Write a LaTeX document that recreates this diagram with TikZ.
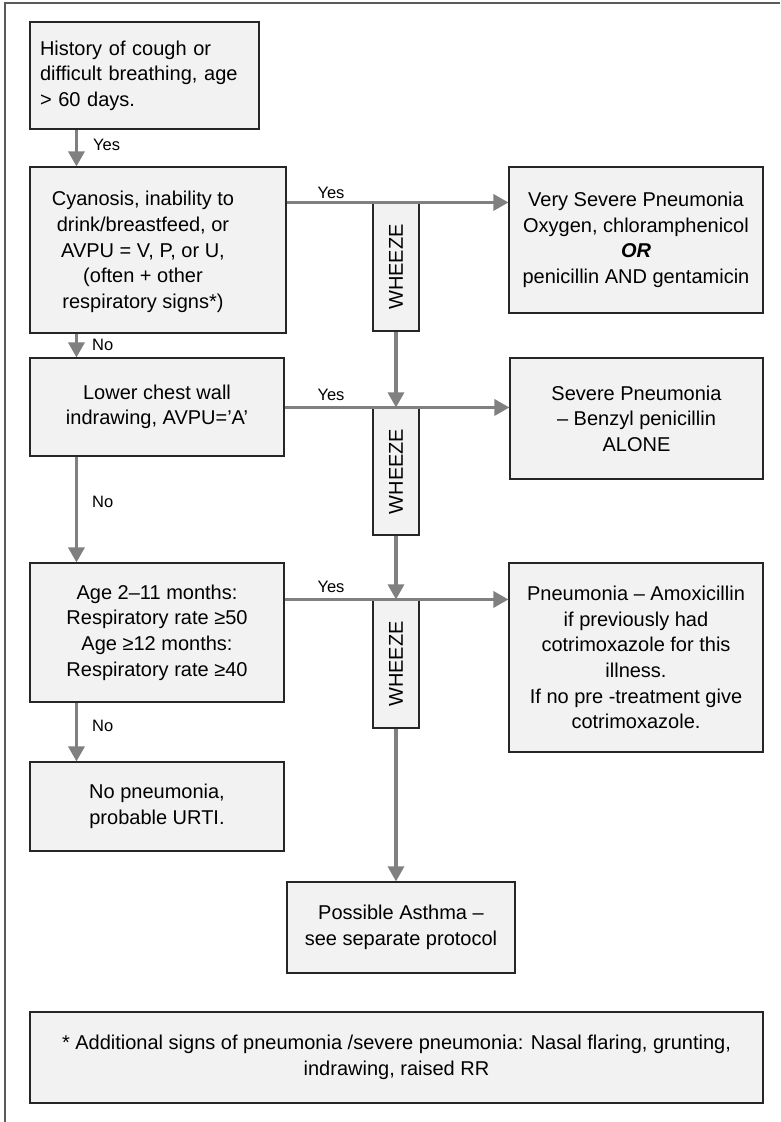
\documentclass[tikz,border=0pt]{standalone}
\usepackage{fontspec}
\setmainfont{Liberation Sans}
\usetikzlibrary{arrows.meta}
\definecolor{boxfill}{HTML}{F2F2F2}
\definecolor{flow}{HTML}{808080}
\definecolor{frame}{HTML}{5A5A5A}
\begin{document}
\begin{tikzpicture}[x=1pt,y=-1pt,
  stepbox/.style={draw=black!85, line width=1.1pt, fill=boxfill, inner sep=0pt,
    align=center, font=\fontsize{20}{25.6}\selectfont},
  boxtext/.style={inner sep=0pt, align=center, font=\fontsize{20}{25.6}\selectfont},
  wheezebox/.style={stepbox, minimum width=46pt, minimum height=128pt},
  flowline/.style={draw=flow, line width=3.2pt},
  flowarrow/.style={flowline, -{Triangle[length=15pt,width=16pt]}},
  answer/.style={font=\fontsize{16.5}{19}\selectfont, inner sep=0pt}]
\useasboundingbox (0,0) rectangle (780,1122);

% page frame (top and left edges)
\draw[frame, line width=1.3pt] (5,1122) -- (5,3) -- (780,3);

% decision chain on the left
\node[stepbox, minimum width=229pt, minimum height=107pt, text width=209pt, align=left]
  (hist) at (144.5,75.5) {History of cough or\\difficult breathing, age\\> 60 days.};
\node[stepbox, minimum width=256pt, minimum height=166pt] (cyan) at (158,250) {};
\node[boxtext] (cyantext) at (143,252)
  {Cyanosis, inability to\\drink/breastfeed, or\\AVPU = V, P, or U,\\(often + other\\respiratory signs*)};
\node[stepbox, minimum width=254pt, minimum height=98pt]
  (chest) at (157,407) {Lower chest wall\\indrawing, AVPU=’A’};
\node[stepbox, minimum width=254pt, minimum height=139pt]
  (rate) at (157,632.5) {Age 2–11 months:\\Respiratory rate ≥50\\Age ≥12 months:\\Respiratory rate ≥40};
\node[stepbox, minimum width=254pt, minimum height=89pt]
  (urti) at (157,806.5) {No pneumonia,\\probable URTI.};

% treatment outcomes on the right
\node[stepbox, minimum width=254pt, minimum height=146pt]
  (vsevere) at (636,240) {Very Severe Pneumonia\\Oxygen, chloramphenicol\\\textbf{\textit{OR}}\\penicillin AND gentamicin};
\node[stepbox, minimum width=253pt, minimum height=121pt]
  (severe) at (636.5,418.5) {Severe Pneumonia\\– Benzyl penicillin\\ALONE};
\node[stepbox, minimum width=254pt, minimum height=189pt]
  (pneu) at (636,657.5) {Pneumonia – Amoxicillin\\if previously had\\cotrimoxazole for this\\illness.\\If no pre -treatment give\\cotrimoxazole.};

% wheeze branch
\node[wheezebox] (wz1) at (396,267) {\rotatebox{90}{WHEEZE}};
\node[wheezebox, minimum height=127pt] (wz2) at (396,471.5) {\rotatebox{90}{WHEEZE}};
\node[wheezebox] (wz3) at (396,664) {\rotatebox{90}{WHEEZE}};
\node[stepbox, minimum width=228pt, minimum height=91pt]
  (asthma) at (401,927.5) {Possible Asthma –\\see separate protocol};

% footnote
\node[stepbox, minimum width=733pt, minimum height=91pt]
  (note) at (396.5,1057.5) {* Additional signs of pneumonia /severe pneumonia: Nasal flaring, grunting,\\indrawing, raised RR};

% "No" path down the left
\draw[flowarrow] ([xshift=47pt]hist.south west) -- ([xshift=47pt]cyan.north west);
\draw[flowarrow] ([xshift=47pt]cyan.south west) -- ([xshift=47pt]chest.north west);
\draw[flowarrow] ([xshift=47pt]chest.south west) -- ([xshift=47pt]rate.north west);
\draw[flowarrow] ([xshift=47pt]rate.south west) -- ([xshift=47pt]urti.north west);

% "Yes" branches to the right
\draw[flowarrow] (cyan.east |- wz1.north) -- (vsevere.west |- wz1.north);
\draw[flowarrow] (chest.east |- wz2.north) -- (severe.west |- wz2.north);
\draw[flowarrow] (rate.east |- wz3.north) -- (pneu.west |- wz3.north);

% wheeze chain
\draw[flowarrow] (wz1.south) -- (wz2.north);
\draw[flowarrow] (wz2.south) -- (wz3.north);
\draw[flowarrow] (wz3.south) -- (wz3.south |- asthma.north);

% answer labels
\node[answer, anchor=west] (yes0) at (93,145) {Yes};
\node[answer] (yes1) at (331,193) {Yes};
\node[answer] (yes2) at (331,395) {Yes};
\node[answer] (yes3) at (331,587) {Yes};
\node[answer, anchor=west] (no1) at (92,345) {No};
\node[answer, anchor=west] (no2) at (92,502) {No};
\node[answer, anchor=west] (no3) at (92,726) {No};
\end{tikzpicture}
\end{document}
